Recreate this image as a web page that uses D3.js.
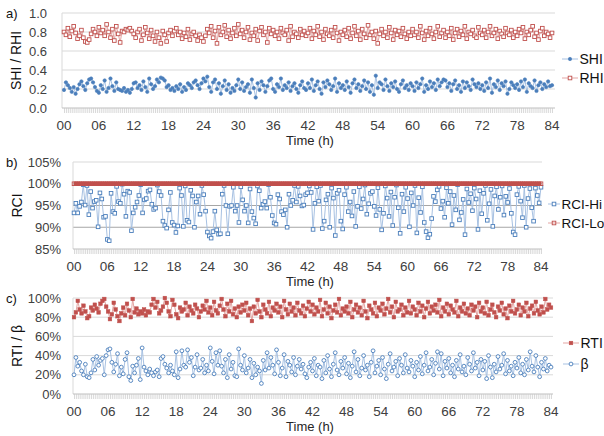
<!DOCTYPE html>
<html>
<head>
<meta charset="utf-8">
<script src="https://cdn.jsdelivr.net/npm/d3@7"></script>
<style>
  body { margin: 0; background: #fff; }
  text { font-family: "Liberation Sans", Arial, sans-serif; }
</style>
</head>
<body>
<svg id="chart" width="604" height="436"></svg>
<script>
// x axis: one point every 20 min, 00..84 h, a label every 6 h
var xTickLabels = ["00","06","12","18","24","30","36","42","48","54","60","66","72","78","84"];
var yLabelsA = ["0.0","0.2","0.4","0.6","0.8","1.0"];
var yLabelsB = ["85%","90%","95%","100%","105%"];
var yLabelsC = ["0%","20%","40%","60%","80%","100%"];

// a) SHI / RHI (x100)
var shi = [
  19,27,24,21,17,22,15,20,25,28,23,19,26,30,31,27,22,18,
  16,24,20,29,17,21,31,23,18,27,20,19,18,21,17,19,16,20,
  26,27,21,24,19,28,22,17,31,25,20,23,30,27,32,31,29,22,
  24,19,21,18,23,20,25,17,22,19,26,24,21,27,29,24,20,26,
  31,28,33,22,17,27,30,20,26,15,23,29,19,25,16,21,18,24,
  30,20,27,18,22,25,16,30,21,11,26,19,28,24,17,23,29,31,
  20,17,25,22,31,19,24,21,27,18,23,26,20,16,24,28,21,19,
  26,21,30,18,24,28,20,15,27,22,29,25,19,23,31,17,26,21,
  24,19,28,22,16,26,30,21,25,18,23,29,20,27,17,24,14,34,
  21,27,25,19,30,23,18,26,22,28,20,17,25,29,21,24,19,26,
  23,18,27,21,25,31,17,24,20,28,22,26,19,30,23,27,30,29,
  22,26,18,25,29,20,24,17,28,21,27,23,19,30,25,22,26,20,
  24,18,27,21,31,16,25,22,29,19,26,23,28,15,20,27,24,21,
  25,19,28,22,30,17,26,23,21,29,18,24,27,20,25,22,28,23,
  24];
var rhi = [
  80,77,84,75,81,86,79,73,76,82,74,70,69,72,78,83,80,76,
  85,79,82,76,88,80,74,83,71,86,78,69,81,80,83,82,84,81,
  78,74,80,83,71,77,85,79,73,82,76,70,80,74,68,81,77,70,
  79,82,76,81,84,77,80,73,79,75,83,72,78,80,76,71,77,74,
  70,76,83,79,86,74,81,68,85,77,80,87,75,82,73,79,84,76,
  88,78,82,74,80,85,72,79,76,83,71,81,85,77,80,69,84,78,
  82,76,80,73,84,79,77,82,71,86,75,80,78,74,83,77,81,76,
  79,84,73,81,77,86,75,80,72,83,78,76,82,74,85,79,71,80,
  77,82,75,84,73,79,86,76,81,72,83,78,74,87,77,80,73,81,
  68,78,83,76,80,74,85,79,72,82,77,81,75,84,78,73,80,76,
  83,77,80,74,86,79,72,81,76,84,78,73,80,86,75,79,82,74,
  80,76,84,72,79,83,75,81,77,86,73,80,78,82,76,74,85,79,
  77,82,74,80,86,76,79,83,73,81,78,75,84,79,77,82,74,80,
  76,83,79,85,73,80,77,82,86,75,79,72,81,84,76,80,78,74,
  79];

// b) RCI (%)
var rciHi = [
  93.3,95.5,93.3,94.8,95.8,99.8,95.1,99.6,92.9,98.2,94.4,95.9,96.2,90.1,97.9,96.5,92.3,92.5,
  87.2,86.9,97.8,93.6,93.2,99.4,95.9,95.5,99.9,97.6,92.5,98.3,98.0,89.2,93.3,94.6,95.8,97.3,
  99.8,93.3,96.3,96.6,98.3,98.6,95.3,94.1,94.4,99.7,98.2,97.3,91.4,90.4,89.8,94.0,98.0,91.1,
  90.5,88.8,90.3,99.0,97.3,90.2,99.5,91.6,91.2,98.5,97.2,90.0,95.8,97.2,93.0,99.6,97.5,93.7,
  88.9,88.0,87.5,89.0,93.7,89.4,88.4,88.5,97.6,99.6,95.0,88.5,94.8,95.0,99.2,93.7,95.0,91.1,
  99.3,96.3,93.7,95.0,91.0,98.8,93.6,92.1,90.8,99.5,98.4,94.4,95.3,95.9,94.4,99.8,96.9,92.7,
  91.0,90.7,97.5,96.5,93.6,92.9,94.0,90.0,97.6,95.0,96.2,99.6,95.8,99.4,97.2,94.9,95.1,97.5,
  97.9,99.5,98.0,89.5,95.5,99.3,96.0,99.6,89.7,91.4,96.3,97.6,90.0,99.0,96.7,88.1,97.8,98.5,
  91.4,89.6,97.5,99.2,93.6,95.8,92.6,98.2,90.2,94.8,99.3,94.3,96.5,99.7,93.0,95.4,97.8,98.2,
  94.8,92.7,99.1,94.1,89.4,93.2,99.5,96.7,92.5,98.1,90.4,96.9,99.7,94.5,88.6,97.6,93.6,99.2,
  96.6,90.1,97.9,95.0,99.6,88.7,96.8,93.4,99.3,91.1,89.0,87.6,88.4,92.0,97.1,95.9,98.6,99.4,
  94.3,96.0,92.3,99.1,95.5,98.2,90.6,97.3,94.0,99.8,91.7,93.4,96.4,88.3,98.8,95.7,97.7,93.8,
  99.0,96.5,89.5,98.4,93.1,97.8,99.6,91.6,95.4,98.7,90.2,97.2,99.3,94.1,96.9,99.5,92.8,97.1,
  95.7,98.9,93.2,88.9,88.3,97.5,99.4,96.0,92.2,99.6,90.0,96.6,98.9,94.5,91.4,99.0,97.3,95.6,
  99.2];
var rciLo = [
  100,100,100,100,100,100,100,100,100,100,100,100,100,100,100,100,100,100,
  100,100,100,100,100,100,100,100,100,100,100,100,100,100,100,100,100,100,
  100,100,100,100,100,100,100,100,100,100,100,100,100,100,100,100,100,100,
  100,100,100,100,100,100,100,100,100,100,100,100,100,100,100,100,100,100,
  100,100,100,100,100,100,100,100,100,100,100,100,100,100,100,100,100,100,
  100,100,100,100,100,100,100,100,100,100,100,100,100,100,100,100,100,100,
  100,100,100,100,100,100,100,100,100,100,100,100,100,100,100,100,100,100,
  100,100,100,100,100,100,100,100,100,100,100,100,100,100,100,100,100,100,
  100,100,100,100,100,100,100,100,100,100,100,100,100,100,100,100,100,100,
  100,100,100,100,100,100,100,100,100,100,100,100,100,100,100,100,100,100,
  100,100,100,100,100,100,100,100,100,100,100,100,100,100,100,100,100,100,
  100,100,100,100,100,100,100,100,100,100,100,100,100,100,100,100,100,100,
  100,100,100,100,100,100,100,100,100,100,100,100,100,100,100,100,100,100,
  100,100,100,100,100,100,100,100,100,100,100,100,100,100,100,100,100,100,
  100];

// c) RTI / beta (%)
var rti = [
  80,85,97,88,84,92,86,79,81,90,87,93,89,85,94,97,99,91,
  86,78,83,95,88,81,76,84,90,82,94,87,80,99,85,89,83,86,
  84,88,82,86,85,93,99,90,96,84,87,91,100,95,86,81,98,93,
  83,79,90,86,88,95,82,91,87,84,93,89,80,86,92,88,97,85,
  90,82,96,87,84,92,99,88,81,94,86,97,83,89,80,91,85,93,
  87,95,82,89,76,91,84,98,86,80,93,88,84,96,81,90,87,94,
  85,91,80,97,88,83,94,86,90,82,95,87,84,92,81,89,96,86,
  93,83,90,86,98,81,88,95,84,91,79,87,93,85,99,82,89,86,
  91,84,96,80,88,93,85,90,82,97,86,79,92,88,84,95,81,90,
  87,94,83,89,99,85,91,80,96,86,88,93,82,90,85,97,84,91,
  88,82,95,86,92,80,89,96,84,91,87,93,85,98,81,90,86,94,
  83,92,88,85,97,81,90,86,94,84,89,82,93,87,91,80,95,86,
  90,84,96,82,88,93,85,80,91,87,95,83,89,79,92,86,97,84,
  88,93,82,90,86,95,81,89,92,84,96,87,83,91,85,99,88,93,
  90];
var beta = [
  20,38,29,33,24,20,31,18,17,22,36,25,39,30,35,37,20,40,
  46,47,33,23,31,42,19,28,21,36,43,18,14,29,22,30,37,15,
  48,28,24,20,26,22,19,23,25,18,37,39,31,27,22,30,24,20,
  44,17,26,45,30,28,46,33,38,19,28,41,25,27,36,22,30,24,
  48,34,21,43,30,45,29,22,36,17,41,26,33,19,18,47,30,25,
  40,22,27,36,17,32,20,28,24,11,35,25,43,27,38,30,21,46,
  33,19,27,41,18,34,30,23,38,20,29,36,26,31,21,17,28,33,
  24,37,19,30,28,16,35,22,40,26,18,31,43,25,20,34,27,38,
  21,32,17,29,44,23,36,19,27,40,25,30,18,33,45,22,29,35,
  20,38,26,16,31,42,24,28,34,19,37,30,22,41,27,23,35,29,
  18,33,25,39,21,30,43,24,28,36,20,32,44,26,42,19,34,27,
  37,22,30,18,35,26,41,23,29,20,38,31,24,43,27,33,19,36,
  25,34,16,40,28,17,31,23,39,26,30,42,21,35,24,29,19,33,
  27,38,22,31,20,36,25,44,29,23,40,28,18,33,26,37,24,30,
  28];

var blue = "#4a7ebb", blueLine = "#a7c1e2";
var red = "#c0504d", redLine = "#e3a5a3";

var svg = d3.select("#chart");
var nPts = shi.length;
var step = (nPts - 1) / (xTickLabels.length - 1);   // points per 6 h

var panels = [
  { tag: "a)", title: "SHI / RHI", titleX: 16, left: 62, right: 555, x0: 64, x1: 552,
    top: 13, bottom: 108, domain: [0, 100], yTicks: [0,20,40,60,80,100], yLabels: yLabelsA, labelX: 47,
    grid: function(d) { return "#d9d9d9"; },
    series: [
      { data: shi, name: "SHI", color: blue, line: blueLine, marker: "dot" },
      { data: rhi, name: "RHI", color: red, line: redLine, marker: "square" }],
    legX: 562, legLen: 16, legFont: 14, legY: [59, 78] },
  { tag: "b)", title: "RCI", titleX: 17, left: 73, right: 542, x0: 74, x1: 541,
    top: 162, bottom: 249, domain: [85, 105], yTicks: [85,90,95,100,105], yLabels: yLabelsB, labelX: 61,
    grid: function(d) { return d == 105 ? "#d9d9d9" : "#a6a6a6"; },
    series: [
      { data: rciHi, name: "RCI-Hi", color: blue, line: blueLine, marker: "square" },
      { data: rciLo, name: "RCI-Lo", color: red, line: red, marker: "squareOpen" }],
    legX: 548, legLen: 12, legFont: 13.5, legY: [204, 223] },
  { tag: "c)", title: "RTI / \u03b2", titleX: 17, left: 73, right: 553, x0: 74, x1: 551,
    top: 298, bottom: 394, domain: [0, 100], yTicks: [0,20,40,60,80,100], yLabels: yLabelsC, labelX: 61,
    grid: function(d) { return "#d9d9d9"; },
    series: [
      { data: rti, name: "RTI", color: red, line: redLine, marker: "fillSquare" },
      { data: beta, name: "\u03b2", color: blue, line: blueLine, marker: "circle" }],
    legX: 563, legLen: 16, legFont: 14, legY: [343, 364] }
];

function drawMarker(sel, type, color) {
  if (type == "dot") {
    sel.append("circle").attr("r", 1.7).attr("fill", color).attr("stroke", color).attr("stroke-width", 0.6);
  } else if (type == "circle") {
    sel.append("circle").attr("r", 1.9).attr("fill", "#fff").attr("stroke", color).attr("stroke-width", 0.9);
  } else if (type == "fillSquare") {
    sel.append("rect").attr("x", -1.8).attr("y", -1.8).attr("width", 3.6).attr("height", 3.6)
      .attr("fill", color).attr("stroke", color).attr("stroke-width", 0.5);
  } else {
    sel.append("rect").attr("x", -1.8).attr("y", -1.8).attr("width", 3.6).attr("height", 3.6)
      .attr("fill", type == "squareOpen" ? "none" : "#fff").attr("stroke", color).attr("stroke-width", 0.9);
  }
}

panels.forEach(function(p) {
  var g = svg.append("g");
  var x = d3.scalePoint().domain(d3.range(nPts)).range([p.x0, p.x1]);
  var y = d3.scaleLinear().domain(p.domain).range([p.bottom, p.top]);

  // gridlines
  g.selectAll(".grid").data(p.yTicks.slice(1)).enter().append("line")
    .attr("x1", p.left).attr("x2", p.right)
    .attr("y1", function(d) { return y(d); }).attr("y2", function(d) { return y(d); })
    .attr("stroke", p.grid).attr("stroke-width", 1);

  // left axis line
  g.append("line").attr("x1", p.left).attr("x2", p.left).attr("y1", p.top).attr("y2", p.bottom)
    .attr("stroke", "#d9d9d9");

  // bottom axis with a tick per point
  var xAxis = d3.axisBottom(x).tickSize(5).tickFormat("");
  var ax = g.append("g").attr("transform", "translate(0," + p.bottom + ")").call(xAxis);
  ax.select(".domain").attr("stroke", "#bfbfbf").attr("d", "M" + p.left + ",0H" + p.right);
  ax.selectAll(".tick line").attr("stroke", "#c8c8c8").attr("stroke-width", 0.7);

  // y labels
  g.selectAll(".ylab").data(p.yTicks).enter().append("text")
    .attr("x", p.labelX).attr("y", function(d) { return y(d) + 4.5; })
    .attr("text-anchor", "end").attr("font-size", 13).attr("fill", "#404040")
    .text(function(d, i) { return p.yLabels[i]; });

  // x labels every 6 h
  g.selectAll(".xlab").data(xTickLabels).enter().append("text")
    .attr("x", function(d, i) { return x(Math.round(i * step)); })
    .attr("y", p.bottom + 22)
    .attr("text-anchor", "middle").attr("font-size", 13.5).attr("fill", "#404040")
    .text(function(d) { return d; });

  g.append("text").attr("x", 310).attr("y", p.bottom + 37).attr("text-anchor", "middle")
    .attr("font-size", 13).attr("fill", "#262626").text("Time (h)");

  // y title and panel tag
  var cy = (p.top + p.bottom) / 2;
  g.append("text").attr("transform", "translate(" + p.titleX + "," + cy + ") rotate(-90)")
    .attr("dy", "0.35em").attr("text-anchor", "middle").attr("font-size", 14).attr("fill", "#111")
    .text(p.title);
  g.append("text").attr("x", 6).attr("y", p.top + 5).attr("font-size", 13).attr("fill", "#111").text(p.tag);

  // series
  p.series.forEach(function(s, k) {
    var isLo = s.name == "RCI-Lo";
    var line = d3.line().x(function(d, i) { return x(i); }).y(function(d) { return y(d); });
    g.append("path").datum(s.data).attr("d", line).attr("fill", "none")
      .attr("stroke", s.line).attr("stroke-width", isLo ? 3.5 : 1);
    var m = g.append("g").selectAll("g").data(s.data).enter().append("g")
      .attr("transform", function(d, i) { return "translate(" + x(i) + "," + y(d) + ")"; });
    drawMarker(m, s.marker, s.color);

    // legend
    var ly = p.legY[k];
    var lg = g.append("g").attr("transform", "translate(" + p.legX + "," + ly + ")");
    lg.append("line").attr("x1", 0).attr("x2", p.legLen).attr("stroke", isLo ? redLine : s.line).attr("stroke-width", 1);
    drawMarker(lg.append("g").attr("transform", "translate(" + (p.legLen / 2) + ",0)"), s.marker, s.color);
    lg.append("text").attr("x", p.legLen + 1.5).attr("y", 5).attr("font-size", p.legFont).attr("fill", "#111").text(s.name);
  });
});
</script>
</body>
</html>
